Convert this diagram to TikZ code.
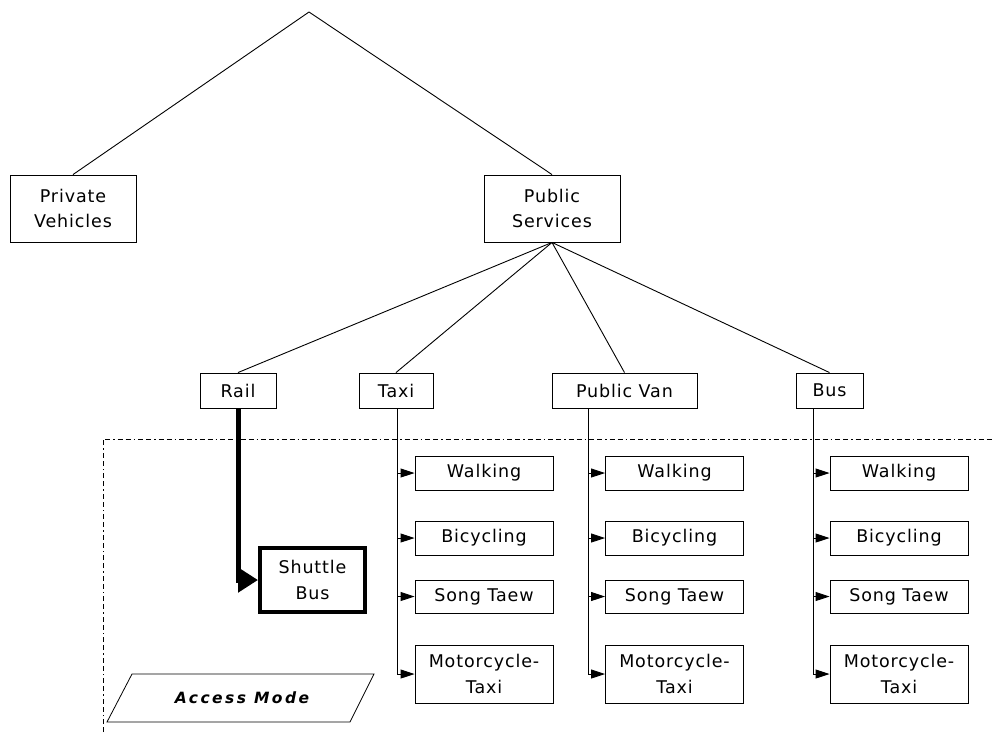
\documentclass[tikz,border=0pt]{standalone}
\usepackage{fontspec}
\setmainfont{DejaVu Sans}[LetterSpace=5]
\usetikzlibrary{arrows.meta}

\tikzset{
  box/.style={draw, line width=0.9pt, inner sep=0pt, align=center,
    font=\fontsize{17.5}{25.5}\selectfont},
  link/.style={line width=0.9pt},
  feed/.style={line width=0.9pt, -{Triangle[length=14pt,width=9pt]}},
  zone/.style={line width=0.7pt, dash pattern=on 5pt off 3pt on 5pt off 3pt on 1.5pt off 3pt}
}

\begin{document}
\begin{tikzpicture}[x=1pt,y=-1pt]
\useasboundingbox (0,0) rectangle (992,732);

% top of the tree
\coordinate (root) at (309,12);
\node[box, minimum width=126pt, minimum height=67pt] (priv) at (73,208.5) {Private\\Vehicles};
\node[box, minimum width=136pt, minimum height=67pt] (pub) at (552,208.5) {Public\\Services};
\draw[link] (root) -- (priv.north);
\draw[link] (root) -- (pub.north);

% public service modes
\node[box, minimum width=76pt, minimum height=35pt] (rail) at (238,390.5) {Rail};
\node[box, minimum width=74pt, minimum height=35pt] (taxi) at (396,390.5) {Taxi};
\node[box, minimum width=145pt, minimum height=35pt] (van) at (624.5,390.5) {Public Van};
\node[box, minimum width=67pt, minimum height=35pt] (bus) at (829.5,390.5) {Bus};
\foreach \m in {rail,taxi,van,bus}
  \draw[link] (pub.south) -- (\m.north);

% access-mode zone
\coordinate (zoneL) at (103,732);
\coordinate (zoneC) at (103,439);
\coordinate (zoneR) at (992,439);
\draw[zone] (zoneL) -- (zoneC) -- (zoneR);

% feeder columns
\foreach \col/\cx/\lx in {t/484/397, v/674.5/588, b/899/813} {
  \node[box, minimum width=138pt, minimum height=34pt] (\col walk) at (\cx,473) {Walking};
  \node[box, minimum width=138pt, minimum height=34pt] (\col bike) at (\cx,538) {Bicycling};
  \node[box, minimum width=138pt, minimum height=33pt] (\col song) at (\cx,596.5) {Song Taew};
  \node[box, minimum width=138pt, minimum height=58pt] (\col moto) at (\cx,674) {Motorcycle-\\Taxi};
  \coordinate (\col top) at (\lx,408);
  \coordinate (\col end) at (\lx,674);
  \draw[link] (\col top) -- (\col end);
  \draw[feed] (\col end) -- (\col moto.west);
  \draw[feed] (\col walk.west -| \col top) -- (\col walk.west);
  \draw[feed] (\col bike.west -| \col top) -- (\col bike.west);
  \draw[feed] (\col song.west -| \col top) -- (\col song.west);
}

% rail feeder
\node[box, line width=4pt, minimum width=105pt, minimum height=64pt] (shuttle) at (312.5,580) {Shuttle\\Bus};
\coordinate (bend) at (238,580);
\draw[line width=5pt, -{Triangle[length=20pt,width=24pt]}] (rail.south) -- (bend) -- (shuttle.west);

% legend
\node[font=\fontsize{15.5}{18}\selectfont\bfseries\itshape\addfontfeature{LetterSpace=16}] (access) at (242,698) {Access Mode};
\draw[line width=0.8pt] (107,722) -- (132,674) -- (374,674) -- (350,722) -- cycle;
\end{tikzpicture}
\end{document}
